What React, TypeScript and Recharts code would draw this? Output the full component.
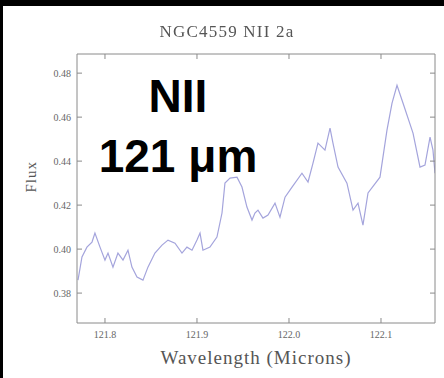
import React from 'react';
import { LineChart, Line, XAxis, YAxis } from 'recharts';

// NII 121 micron spectrum of NGC4559 (wavelength in microns, flux)
const wavelength = [
  121.7707, 121.775, 121.7804, 121.7859, 121.7891, 121.7946, 121.8, 121.8033, 121.8087, 121.8141,
  121.8196, 121.825, 121.8293, 121.8348, 121.8413, 121.8467, 121.8543, 121.862, 121.8685, 121.8761,
  121.8837, 121.8891, 121.8946, 121.9, 121.9033, 121.9065, 121.9141, 121.9217, 121.9272, 121.9304,
  121.9359, 121.9435, 121.9489, 121.9543, 121.9598, 121.963, 121.9663, 121.9717, 121.9772, 121.9848,
  121.9902, 121.9957, 122.0033, 122.0141, 122.0207, 122.0261, 122.0315, 122.0391, 122.0446, 122.0478,
  122.0533, 122.063, 122.0696, 122.075, 122.0804, 122.0859, 122.0989, 122.1065, 122.112, 122.1174,
  122.1239, 122.1348, 122.1424, 122.1478, 122.1533, 122.1565, 122.1587,
];
const flux = [
  0.3859, 0.3964, 0.4009, 0.4032, 0.4073, 0.4009, 0.395, 0.3982, 0.3918, 0.3982,
  0.395, 0.3995, 0.3918, 0.3873, 0.3859, 0.3918, 0.3982, 0.4018, 0.4041, 0.4027,
  0.3982, 0.4009, 0.3995, 0.4041, 0.4073, 0.3995, 0.4009, 0.4055, 0.4164, 0.43,
  0.4323, 0.4327, 0.4282, 0.4191, 0.4132, 0.4164, 0.4177, 0.4141, 0.4155, 0.4209,
  0.4145, 0.4236, 0.4282, 0.4345, 0.4305, 0.4391, 0.4482, 0.445, 0.455, 0.4482,
  0.4373, 0.43, 0.4177, 0.4209, 0.4109, 0.4255, 0.4327, 0.4541, 0.4664, 0.4745,
  0.4664, 0.4527, 0.4373, 0.4382, 0.4509, 0.445, 0.4345,
];
const xTicks = [121.8, 121.9, 122.0, 122.1];
const yTicks = [0.38, 0.4, 0.42, 0.44, 0.46, 0.48];

const data = wavelength.map((w, i) => ({ w, flux: flux[i] }));

const xDomain = [121.7696, 122.1587];
const yDomain = [0.3664, 0.4887];

const serif = '"Liberation Serif", "DejaVu Serif", serif';
const axisColor = '#8a8a8a';
const tickStyle = { fontSize: 10, fill: '#666', fontFamily: serif };

const App: React.FC = () => {
  return (
    <div style={{ position: 'fixed', left: 0, top: 0, width: 444, height: 378, background: '#000' }}>
      <div style={{ position: 'absolute', left: 3, top: 6, right: 0, bottom: 0, background: '#fff' }} />
      <div style={{ position: 'absolute', left: 0, top: 0 }}>
        <LineChart width={444} height={378} data={data} margin={{ top: 53, right: 8, left: 37, bottom: 25 }}>
          <XAxis
            dataKey="w"
            type="number"
            domain={xDomain}
            ticks={xTicks}
            tickFormatter={(v: number) => v.toFixed(1)}
            height={30}
            stroke={axisColor}
            tickSize={-5}
            tickMargin={13}
            tick={tickStyle}
            allowDataOverflow
            label={{ value: 'Wavelength (Microns)', position: 'insideBottom', offset: -11, style: { fontSize: 19, letterSpacing: 1, fill: '#555', fontFamily: serif } }}
          />
          <XAxis
            xAxisId="top"
            orientation="top"
            dataKey="w"
            type="number"
            domain={xDomain}
            ticks={xTicks}
            tickFormatter={() => ''}
            height={1}
            stroke={axisColor}
            tickSize={-5}
            allowDataOverflow
          />
          <YAxis
            type="number"
            domain={yDomain}
            ticks={yTicks}
            tickFormatter={(v: number) => v.toFixed(2)}
            width={40}
            stroke={axisColor}
            tickSize={-5}
            tickMargin={11}
            tick={tickStyle}
            allowDataOverflow
            label={{ value: 'Flux', angle: -90, position: 'insideLeft', offset: -6, dy: 4, style: { fontSize: 15, letterSpacing: 1, fill: '#555', fontFamily: serif } }}
          />
          <YAxis
            yAxisId="right"
            orientation="right"
            type="number"
            domain={yDomain}
            ticks={yTicks}
            tickFormatter={() => ''}
            width={1}
            stroke={axisColor}
            tickSize={-5}
            allowDataOverflow
          />
          {/* invisible copy on the top/right axes so the frame axes get drawn */}
          <Line
            xAxisId="top"
            yAxisId="right"
            type="linear"
            dataKey="flux"
            stroke="none"
            dot={false}
            activeDot={false}
            isAnimationActive={false}
          />
          <Line
            type="linear"
            dataKey="flux"
            stroke="#a4a4dc"
            strokeWidth={1.2}
            dot={false}
            isAnimationActive={false}
          />
        </LineChart>
      </div>
      <div style={{ position: 'absolute', left: 0, width: 454, top: 22, textAlign: 'center', fontFamily: serif, fontSize: 17, letterSpacing: 1.2, color: '#555' }}>
        NGC4559 NII 2a
      </div>
      <div style={{ position: 'absolute', left: 96, width: 164, top: 66, textAlign: 'center', fontFamily: '"Liberation Sans", Arial, sans-serif', fontWeight: 'bold', fontSize: 46, lineHeight: '60px', color: '#000' }}>
        NII<br />121 μm
      </div>
    </div>
  );
};

export default App;
